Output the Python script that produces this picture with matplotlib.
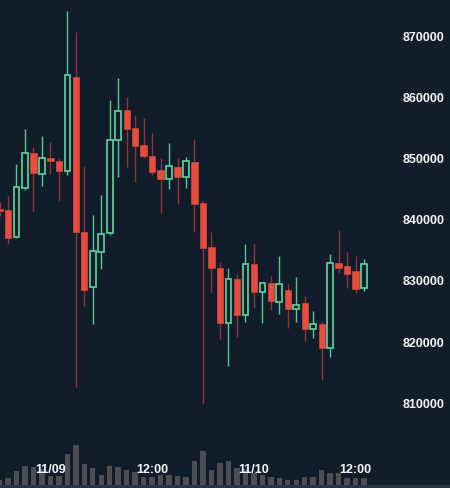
import matplotlib
matplotlib.use("Agg")
import matplotlib.pyplot as plt
import matplotlib.transforms as mtransforms
import matplotlib.patches as mpatches
import pandas as pd
import numpy as np

# ---- data (hourly candles) ----
times = pd.date_range("2018-11-08 18:00", periods=44, freq="h")
opens = [841600, 841400, 837000, 845000, 850700, 847300, 849900, 849400, 847800, 863100,
         837800, 828800, 834500, 837600, 852800, 857700, 854800, 852000, 850200, 847900,
         846500, 848400, 846800, 849200, 842500, 835400, 831900, 822900, 830100, 824200,
         832600, 828000, 829500, 826400, 828300, 825200, 826200, 822000, 822800, 818900,
         832700, 832300, 831400, 828700]
highs = [842700, 843700, 848900, 854600, 851700, 853500, 852500, 849900, 873900, 870500,
         848600, 840600, 843900, 859400, 863000, 859900, 856900, 856400, 854000, 849900,
         852400, 849900, 850100, 853000, 842900, 837800, 832900, 831900, 830900, 835800,
         835800, 829500, 830600, 833900, 829300, 830500, 827400, 824900, 823100, 834200,
         838100, 834500, 833900, 833400]
lows = [840400, 835800, 836900, 844700, 841200, 845300, 847300, 842900, 847100, 812500,
        825700, 822800, 831800, 837300, 846800, 848400, 846000, 849900, 847100, 840900,
        844800, 842400, 845000, 837800, 809700, 827800, 820300, 815900, 820700, 823100,
        825400, 822900, 825100, 824400, 822100, 823100, 820000, 820500, 813600, 817400,
        831100, 828700, 827800, 828200]
closes = [841200, 836800, 845200, 850700, 847500, 849900, 849400, 847800, 863500, 837800,
          828300, 834700, 837500, 852800, 857600, 854600, 851900, 850200, 847600, 846500,
          848600, 846800, 849400, 842400, 835200, 831900, 822900, 830100, 824200, 832600,
          828000, 829500, 826500, 829300, 825200, 825900, 822000, 822800, 818900, 832700,
          831900, 830900, 828500, 832600]
volumes = [5, 7, 14, 19, 18, 16, 9, 9, 31, 40, 21, 17, 10, 19, 18, 15, 13, 8, 8, 10,
           10, 9, 8, 24, 34, 15, 22, 24, 17, 16, 12, 10, 8, 7, 5, 5, 8, 8, 15, 12,
           12, 7, 7, 7]
price_ticks = [810000, 820000, 830000, 840000, 850000, 860000, 870000]

BG = "#111d2b"
UP = "#5cc897"
DOWN = "#e84c3d"
DOWN_WICK = "#8c3538"
VOL = "#4b4e53"
TXT = "#f4f7fa"

W, H = 450, 489
plt.rcParams["font.family"] = ["Liberation Sans", "DejaVu Sans"]
fig = plt.figure(figsize=(W / 100, H / 100), dpi=100, facecolor=BG)

ax_w = 398 / W
x = np.arange(len(times))
xlim = (0.056, 0.056 + 398 / 8.477)

# volume axes
axv = fig.add_axes([0, 3 / H, ax_w, 100 / H])
axv.set_facecolor("none")
axv.bar(x, volumes, width=0.64, color=VOL, zorder=1)
axv.set_xlim(*xlim)
axv.set_ylim(0, 100)
axv.axis("off")

# price axes
ax = fig.add_axes([0, 0, ax_w, 1])
ax.set_facecolor("none")
ax.set_xlim(*xlim)
ymin = 870000 - (489 - 36) / 61.2 * 10000
ymax = 870000 + 36 / 61.2 * 10000
ax.set_ylim(ymin, ymax)

bw = 0.66
for i in range(len(times)):
    o, h, l, c = opens[i], highs[i], lows[i], closes[i]
    up = c >= o
    wc = UP if up else DOWN_WICK
    lo_b, hi_b = min(o, c), max(o, c)
    ax.vlines(x[i], hi_b, h, color=wc, lw=1.0, zorder=2)
    ax.vlines(x[i], l, lo_b, color=wc, lw=1.0, zorder=2)
    if up:
        ax.bar(x[i], hi_b - lo_b, bottom=lo_b, width=bw, facecolor=BG,
               edgecolor=UP, linewidth=1.3, zorder=3)
    else:
        ax.bar(x[i], max(hi_b - lo_b, 300), bottom=lo_b, width=bw + 0.08,
               facecolor=DOWN, edgecolor=DOWN, linewidth=0.4, zorder=3)

ax.yaxis.tick_right()
ax.set_yticks(price_ticks)
ax.set_yticklabels([str(v) for v in price_ticks])
ax.tick_params(axis="y", length=0, pad=3, labelsize=9, labelcolor=TXT)
for lab in ax.get_yticklabels():
    lab.set_fontweight("bold")
ax.set_xticks([])
for s in ax.spines.values():
    s.set_visible(False)

# time labels
tr = mtransforms.blended_transform_factory(ax.transData, fig.transFigure)
for i, t in enumerate(times):
    if t.hour == 0:
        lab = t.strftime("%m/%d")
    elif t.hour == 12:
        lab = t.strftime("%H:%M")
    else:
        continue
    ax.text(x[i], (H - 470) / H, lab, transform=tr, ha="center", va="center",
            color=TXT, fontsize=9, fontweight="bold", zorder=5)

# bottom band
fig.patches.append(mpatches.Rectangle((0, 0), 1, 3 / H, transform=fig.transFigure,
                                      facecolor="#263443", edgecolor="none"))

fig.savefig("out.png", dpi=100, facecolor=BG)
